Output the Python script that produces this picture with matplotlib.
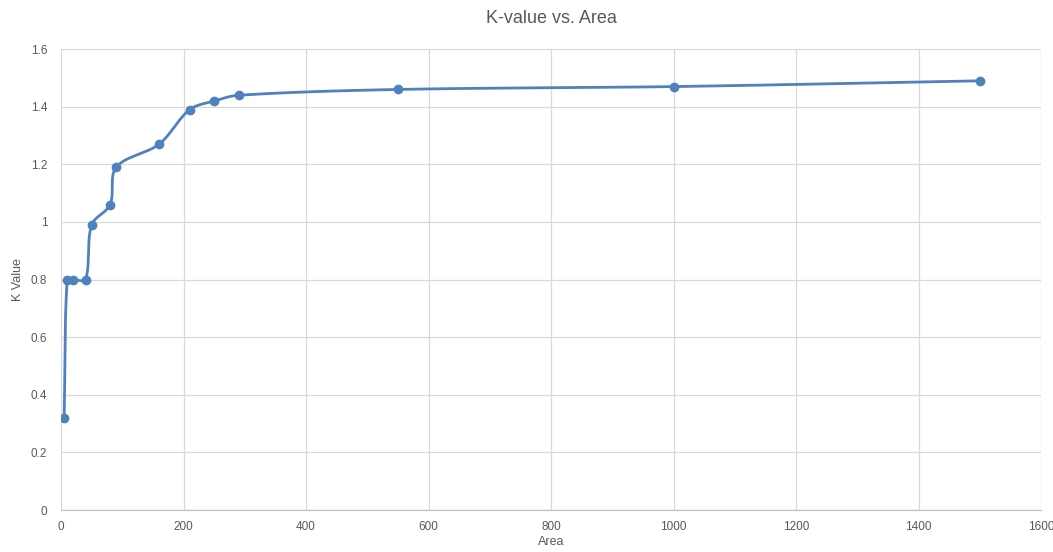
import numpy as np
import matplotlib.pyplot as plt
from matplotlib.ticker import FuncFormatter

area = [5, 10, 20, 40, 50, 80, 90, 160, 210, 250, 290, 550, 1000, 1500]
k_value = [0.32, 0.80, 0.80, 0.80, 0.99, 1.06, 1.19, 1.27, 1.39, 1.42, 1.44, 1.46, 1.47, 1.49]

BLUE = '#4f81bd'
GRID = '#d9d9d9'
TEXT = '#595959'


def smooth(xs, ys, sx, sy, n=40):
    # excel-like smoothing, done in pixel space, tangents scaled by chord lengths
    pts = np.column_stack([np.array(xs) * sx, np.array(ys) * sy]).astype(float)
    out = [pts[0]]
    m = len(pts)
    for i in range(m - 1):
        p0 = pts[i - 1] if i > 0 else pts[i]
        p1 = pts[i]
        p2 = pts[i + 1]
        p3 = pts[i + 2] if i + 2 < m else pts[i + 1]
        d01 = np.hypot(*(p1 - p0))
        d12 = np.hypot(*(p2 - p1))
        d23 = np.hypot(*(p3 - p2))
        f1 = d12 / (d01 + d12) if d01 + d12 > 0 else 0
        f2 = d12 / (d12 + d23) if d12 + d23 > 0 else 0
        c1 = p1 + (p2 - p0) * f1 / 3
        c2 = p2 - (p3 - p1) * f2 / 3
        t = np.linspace(0, 1, n)[1:, None]
        seg = ((1 - t) ** 3) * p1 + 3 * ((1 - t) ** 2) * t * c1 \
            + 3 * (1 - t) * t ** 2 * c2 + t ** 3 * p2
        out.extend(seg)
    out = np.array(out)
    return out[:, 0] / sx, out[:, 1] / sy


def main():
    plt.rcParams['font.family'] = ['Liberation Sans', 'DejaVu Sans']
    fig = plt.figure(figsize=(10.53, 5.52), dpi=100)
    ax = fig.add_axes([0.058, 0.076, 0.9306, 0.835])

    lx, ly = smooth(area, k_value, 980 / 1600, 461 / 1.6)
    ax.plot(lx, ly, color=BLUE, lw=2, solid_capstyle='round', zorder=3)
    ax.plot(area, k_value, 'o', color=BLUE, ms=6, zorder=4)

    ax.set_xlim(0, 1600)
    ax.set_ylim(0, 1.6)
    ax.set_xticks(np.arange(0, 1601, 200))
    ax.set_yticks(np.arange(0, 1.61, 0.2))
    ax.yaxis.set_major_formatter(FuncFormatter(lambda v, p: '%g' % round(v, 1)))
    ax.grid(True, color=GRID, lw=0.9)
    ax.set_axisbelow(True)
    for s in ['top', 'right', 'left']:
        ax.spines[s].set_visible(False)
    ax.spines['bottom'].set_color('#bfbfbf')
    ax.tick_params(length=0, colors=TEXT, labelsize=8.5)
    ax.tick_params(axis='y', pad=10)
    ax.tick_params(axis='x', pad=8)

    ax.set_xlabel('Area', color=TEXT, fontsize=9, labelpad=2)
    ax.set_ylabel('K Value', color=TEXT, fontsize=9, labelpad=5)
    ax.set_title('K-value vs. Area', color=TEXT, fontsize=13, pad=19)

    fig.savefig('out.png', dpi=100)


if __name__ == '__main__':
    main()
